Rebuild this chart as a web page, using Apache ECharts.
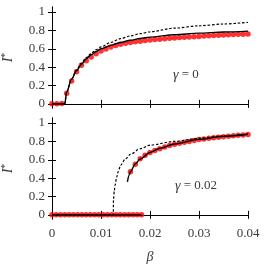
<!DOCTYPE html>
<html><head><meta charset="utf-8">
<script src="https://cdn.jsdelivr.net/npm/echarts@6/dist/echarts.min.js"></script>
<style>html,body{margin:0;padding:0;background:#fff}#c{width:266px;height:267px}</style>
</head><body><div id="c"></div>
<script>
// ---- data ----
const xTicks = [0, 0.01, 0.02, 0.03, 0.04];
const yTicks = [0, 0.2, 0.4, 0.6, 0.8, 1];

// top panel, gamma = 0
const topDotBeta = [0,0.001,0.002,0.003,0.004,0.005,0.006,0.007,0.008,0.009,0.010,0.011,0.012,0.013,0.014,0.015,0.016,0.017,0.018,0.019,0.020,0.021,0.022,0.023,0.024,0.025,0.026,0.027,0.028,0.029,0.030,0.031,0.032,0.033,0.034,0.035,0.036,0.037,0.038,0.039,0.040];
const topDotI    = [0,0,0.005,0.115,0.25,0.35,0.42,0.47,0.51,0.545,0.575,0.598,0.618,0.635,0.648,0.66,0.668,0.676,0.683,0.69,0.695,0.70,0.705,0.71,0.714,0.718,0.722,0.726,0.729,0.732,0.735,0.738,0.741,0.744,0.747,0.75,0.752,0.755,0.757,0.759,0.761];
const topLineBeta = [0,0.0026,0.003,0.004,0.005,0.006,0.007,0.008,0.009,0.010,0.012,0.014,0.016,0.018,0.020,0.025,0.030,0.035,0.040];
const topSolidI   = [0,0,0.13,0.27,0.36,0.43,0.49,0.535,0.57,0.60,0.637,0.668,0.693,0.712,0.727,0.753,0.77,0.782,0.792];
const topDashedI  = [0,0,0.13,0.27,0.37,0.445,0.505,0.55,0.59,0.62,0.67,0.71,0.74,0.765,0.785,0.825,0.85,0.87,0.888];

// bottom panel, gamma = 0.02
const botLowDotBeta = [0,0.00087,0.00174,0.00261,0.00348,0.00435,0.00522,0.00609,0.00696,0.00783,0.0087,0.00957,0.01044,0.01131,0.01218,0.01305,0.01392,0.01479,0.01566,0.01653,0.0174,0.01827];
const botLowDotI    = [0,0,0,0,0,0,0,0,0,0,0,0,0,0,0,0,0,0,0,0,0,0];
const botUpDotBeta = [0.016,0.017,0.018,0.019,0.020,0.021,0.022,0.023,0.024,0.025,0.026,0.027,0.028,0.029,0.030,0.031,0.032,0.033,0.034,0.035,0.036,0.037,0.038,0.039,0.040];
const botUpDotI    = [0.47,0.55,0.61,0.65,0.68,0.70,0.72,0.74,0.755,0.77,0.78,0.79,0.80,0.81,0.82,0.827,0.834,0.84,0.846,0.852,0.857,0.862,0.867,0.871,0.875];
const botSolidLowBeta = [0, 0.0183];
const botSolidLowI    = [0, 0];
const botSolidUpBeta = [0.0154,0.0157,0.016,0.017,0.018,0.020,0.022,0.025,0.030,0.035,0.040];
const botSolidUpI    = [0.36,0.43,0.47,0.555,0.61,0.68,0.725,0.772,0.822,0.855,0.878];
const botDashedBeta = [0,0.0125,0.01255,0.0127,0.0129,0.0132,0.0135,0.014,0.015,0.016,0.018,0.020,0.025,0.030,0.035,0.040];
const botDashedI    = [0,0,0.16,0.26,0.33,0.41,0.47,0.54,0.61,0.66,0.72,0.76,0.80,0.835,0.86,0.88];

const panelLabels = ['0', '0.02'];

// ---- chart ----
const pair = (xs, ys) => xs.map((x, i) => [x, ys[i]]);
const FONT = 'Liberation Serif';
const TXT = '#3a3a3a';
const axLine = {show: true, lineStyle: {color: '#000', width: 1}};
const tick = {show: true, inside: true, length: 4, lineStyle: {color: '#000', width: 1}};

function xAxes(gi, showLabels) {
  return [
    {gridIndex: gi, type: 'value', position: 'bottom', min: 0, max: 0.04, interval: 0.01,
     axisLine: axLine, axisTick: tick, splitLine: {show: false},
     axisLabel: {show: showLabels, color: TXT, fontFamily: FONT, fontSize: 13, margin: 8,
       formatter: v => String(+v.toFixed(2))},
     name: showLabels ? 'β' : '', nameLocation: 'middle', nameGap: 31,
     nameTextStyle: {color: TXT, fontFamily: FONT, fontSize: 14, fontStyle: 'italic'}},
    {gridIndex: gi, type: 'value', position: 'top', min: 0, max: 0.04, interval: 0.01,
     axisLine: axLine, axisTick: tick, splitLine: {show: false}, axisLabel: {show: false}}
  ];
}
function yAxes(gi) {
  return [
    {gridIndex: gi, type: 'value', position: 'left', min: -0.045, max: 1.055,
     axisLine: axLine, splitLine: {show: false},
     axisTick: Object.assign({customValues: yTicks}, tick),
     axisLabel: {customValues: yTicks, color: TXT, fontFamily: FONT, fontSize: 13, margin: 7,
       formatter: v => String(+(+v).toFixed(1))},
     name: '{i|I}{s|*}', nameLocation: 'middle', nameGap: 36, nameRotate: 90,
     nameTextStyle: {rich: {
       i: {fontFamily: FONT, fontSize: 14, fontStyle: 'italic', color: TXT},
       s: {fontFamily: FONT, fontSize: 10, color: TXT, verticalAlign: 'top', padding: [0,0,6,0]}}}},
    {gridIndex: gi, type: 'value', position: 'right', min: -0.045, max: 1.055,
     axisLine: axLine, splitLine: {show: false},
     axisTick: Object.assign({customValues: yTicks}, tick),
     axisLabel: {show: false}}
  ];
}

const dot = (name, data, xi, yi) => ({type: 'scatter', name, data, xAxisIndex: xi, yAxisIndex: yi,
  symbol: 'circle', symbolSize: 5.5, itemStyle: {color: '#ff0000'}, z: 2, silent: true});
const line = (name, data, xi, yi, dashed) => ({type: 'line', name, data, xAxisIndex: xi, yAxisIndex: yi,
  showSymbol: false, smooth: 0.3, smoothMonotone: 'x', z: 3, silent: true,
  lineStyle: {color: '#000', width: dashed ? 1.2 : 1.4, type: dashed ? [2.5, 1.8] : 'solid'}});

const option = {
  animation: false,
  grid: [
    {left: 52, right: 18, top: 7, height: 101, containLabel: false, outerBoundsMode: 'none'},
    {left: 52, right: 18, top: 118, height: 101, containLabel: false, outerBoundsMode: 'none'}
  ],
  xAxis: [...xAxes(0, false), ...xAxes(1, true)],
  yAxis: [...yAxes(0), ...yAxes(1)],
  series: [
    dot('top dots', pair(topDotBeta, topDotI), 0, 0),
    line('top solid', pair(topLineBeta, topSolidI), 0, 0, false),
    line('top dashed', pair(topLineBeta, topDashedI), 0, 0, true),
    dot('bot low dots', pair(botLowDotBeta, botLowDotI), 2, 2),
    dot('bot up dots', pair(botUpDotBeta, botUpDotI), 2, 2),
    line('bot solid low', pair(botSolidLowBeta, botSolidLowI), 2, 2, false),
    line('bot solid up', pair(botSolidUpBeta, botSolidUpI), 2, 2, false),
    line('bot dashed', pair(botDashedBeta, botDashedI), 2, 2, true)
  ],
  graphic: [
    {type: 'text', left: 173, top: 68, style: {text: '{g|γ} = ' + panelLabels[0],
      font: '13px "Liberation Serif"', fill: TXT,
      rich: {g: {fontFamily: FONT, fontSize: 14, fontStyle: 'italic', fill: TXT}}}},
    {type: 'text', left: 175, top: 179, style: {text: '{g|γ} = ' + panelLabels[1],
      font: '13px "Liberation Serif"', fill: TXT,
      rich: {g: {fontFamily: FONT, fontSize: 14, fontStyle: 'italic', fill: TXT}}}}
  ]
};
const chart = echarts.init(document.getElementById('c'), null, {renderer: 'canvas'});
chart.setOption(option);
</script></body></html>
